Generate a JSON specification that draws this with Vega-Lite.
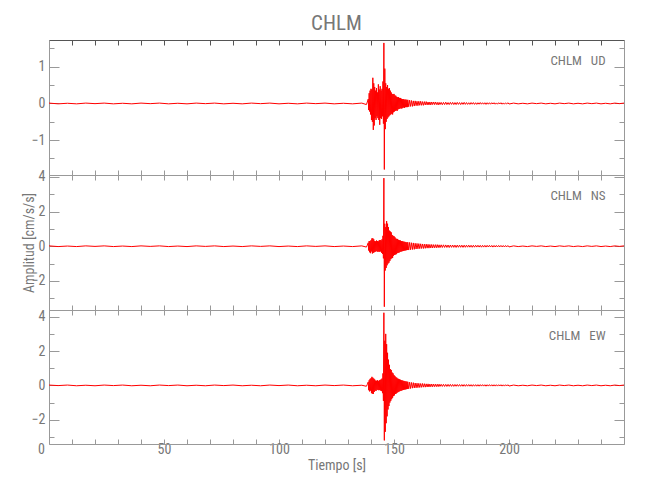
{
"$schema": "https://vega.github.io/schema/vega-lite/v6.json",
"padding": {"left": 22, "top": 12, "right": 5, "bottom": 5},
"spacing": 0,
"bounds": "flush",
"config": {
  "font": "Liberation Sans Narrow, Roboto Condensed, Roboto",
  "view": {"stroke": null},
  "axis": {"domainColor": "#999", "tickColor": "#999", "labelColor": "#777", "titleColor": "#777", "labelFontSize": 14, "titleFontSize": 14, "titleFontWeight": "normal", "grid": false, "labelFont": "Liberation Sans Narrow, Roboto Condensed, Roboto", "titleFont": "Liberation Sans Narrow, Roboto Condensed, Roboto", "tickWidth": 1, "domainWidth": 1, "labelOverlap": false, "labelFlush": false}
},
"datasets": {
"ud": [{"t":0,"a":0.01},{"t":4,"a":-0.01},{"t":8,"a":0.005},{"t":12,"a":-0.01},{"t":16,"a":0.01},{"t":20,"a":-0.005},{"t":24,"a":0.01},{"t":28,"a":-0.01},{"t":32,"a":0.005},{"t":36,"a":-0.01},{"t":40,"a":0.01},{"t":44,"a":-0.005},{"t":48,"a":0.01},{"t":52,"a":-0.01},{"t":56,"a":0.005},{"t":60,"a":-0.01},{"t":64,"a":0.01},{"t":68,"a":-0.005},{"t":72,"a":0.01},{"t":76,"a":-0.01},{"t":80,"a":0.005},{"t":84,"a":-0.01},{"t":88,"a":0.01},{"t":92,"a":-0.005},{"t":96,"a":0.01},{"t":100,"a":-0.01},{"t":104,"a":0.005},{"t":108,"a":-0.01},{"t":112,"a":0.01},{"t":116,"a":-0.005},{"t":120,"a":0.01},{"t":124,"a":-0.01},{"t":128,"a":0.005},{"t":132,"a":-0.01},{"t":136,"a":0.01},
{"t":138.0,"a":-0.03},{"t":138.4,"a":0.04},
{"t":138.8,"a":0.12},{"t":139.0,"a":-0.18},{"t":139.2,"a":0.28},{"t":139.4,"a":-0.22},{"t":139.6,"a":0.35},{"t":139.8,"a":-0.3},{"t":140.0,"a":0.4},{"t":140.2,"a":-0.45},{"t":140.4,"a":0.38},{"t":140.6,"a":-0.5},{"t":140.8,"a":0.7},{"t":141.0,"a":-0.72},{"t":141.2,"a":0.55},{"t":141.4,"a":-0.6},{"t":141.6,"a":0.45},{"t":141.8,"a":-0.4},{"t":142.0,"a":0.35},{"t":142.2,"a":-0.45},{"t":142.4,"a":0.42},{"t":142.6,"a":-0.35},{"t":142.8,"a":0.3},{"t":143.0,"a":-0.4},{"t":143.2,"a":0.52},{"t":143.4,"a":-0.45},{"t":143.6,"a":0.38},{"t":143.8,"a":-0.58},{"t":144.0,"a":0.47},{"t":144.2,"a":-0.4},{"t":144.4,"a":0.35},{"t":144.6,"a":-0.42},{"t":144.8,"a":0.4},{"t":145.0,"a":-0.35},{"t":145.2,"a":0.6},{"t":145.4,"a":-0.55},{"t":145.6,"a":1.65},{"t":145.8,"a":-1.8},{"t":146.0,"a":0.95},{"t":146.2,"a":-0.7},{"t":146.4,"a":0.55},{"t":146.6,"a":-0.5},{"t":146.8,"a":0.45},{"t":147.0,"a":-0.42},{"t":147.2,"a":0.5},{"t":147.4,"a":-0.38},{"t":147.6,"a":0.4},{"t":147.8,"a":-0.35},{"t":148.0,"a":0.42},{"t":148.2,"a":-0.32},{"t":148.4,"a":0.35},{"t":148.6,"a":-0.3},{"t":148.8,"a":0.3},{"t":149.0,"a":-0.28},{"t":149.2,"a":0.26},{"t":149.4,"a":-0.3},{"t":149.6,"a":0.25},{"t":149.8,"a":-0.24},{"t":150.0,"a":0.26},{"t":150.2,"a":-0.22},{"t":150.4,"a":0.22},{"t":150.6,"a":-0.2},{"t":150.8,"a":0.21},{"t":151.0,"a":-0.19},{"t":151.2,"a":0.18},{"t":151.4,"a":-0.2},{"t":151.6,"a":0.17},{"t":151.8,"a":-0.16},{"t":152.0,"a":0.17},{"t":152.2,"a":-0.15},{"t":152.4,"a":0.15},{"t":152.6,"a":-0.14},{"t":152.8,"a":0.15},{"t":153.0,"a":-0.13},{"t":153.2,"a":0.13},{"t":153.4,"a":-0.14},{"t":153.6,"a":0.12},{"t":153.8,"a":-0.12},{"t":154.0,"a":0.12},{"t":154.2,"a":-0.11},{"t":154.4,"a":0.11},{"t":154.6,"a":-0.12},{"t":154.8,"a":0.1},{"t":155.0,"a":-0.1},{"t":155.2,"a":0.11},{"t":155.4,"a":-0.1},{"t":155.6,"a":0.09},{"t":155.8,"a":-0.1},{"t":156.0,"a":0.1},
{"t":156.4,"a":-0.09},{"t":156.8,"a":0.09},{"t":157.2,"a":-0.08},{"t":157.6,"a":0.08},{"t":158.0,"a":-0.08},{"t":158.4,"a":0.07},{"t":158.8,"a":-0.07},{"t":159.2,"a":0.07},{"t":159.6,"a":-0.06},{"t":160.0,"a":0.06},{"t":160.4,"a":-0.06},{"t":160.8,"a":0.06},{"t":161.2,"a":-0.05},{"t":161.6,"a":0.06},{"t":162.0,"a":-0.05},{"t":162.4,"a":0.05},{"t":162.8,"a":-0.05},{"t":163.2,"a":0.05},{"t":163.6,"a":-0.04},{"t":164.0,"a":0.05},{"t":164.4,"a":-0.04},{"t":164.8,"a":0.04},{"t":165.2,"a":-0.04},{"t":165.6,"a":0.04},{"t":166.0,"a":-0.04},{"t":166.4,"a":0.04},{"t":166.8,"a":-0.03},{"t":167.2,"a":0.04},{"t":167.6,"a":-0.03},{"t":168.0,"a":0.04},{"t":168.4,"a":-0.03},{"t":168.8,"a":0.03},{"t":169.2,"a":-0.04},{"t":169.6,"a":0.03},{"t":170.0,"a":-0.03},
{"t":170.5,"a":0.03},{"t":171,"a":-0.035},{"t":171.5,"a":0.03},{"t":172,"a":-0.03},{"t":172.5,"a":0.035},{"t":173,"a":-0.03},{"t":173.5,"a":0.025},{"t":174,"a":-0.03},{"t":174.5,"a":0.03},{"t":175,"a":-0.025},{"t":175.5,"a":0.03},{"t":176,"a":-0.03},{"t":176.5,"a":0.025},{"t":177,"a":-0.03},{"t":177.5,"a":0.03},{"t":178,"a":-0.025},{"t":178.5,"a":0.025},{"t":179,"a":-0.03},{"t":179.5,"a":0.025},{"t":180,"a":-0.025},{"t":180.5,"a":0.03},{"t":181,"a":-0.025},{"t":181.5,"a":0.025},{"t":182,"a":-0.025},{"t":182.5,"a":0.02},{"t":183,"a":-0.025},{"t":183.5,"a":0.025},{"t":184,"a":-0.02},{"t":184.5,"a":0.025},{"t":185,"a":-0.025},{"t":185.5,"a":0.02},{"t":186,"a":-0.025},{"t":186.5,"a":0.02},{"t":187,"a":-0.02},{"t":187.5,"a":0.025},{"t":188,"a":-0.02},{"t":188.5,"a":0.02},{"t":189,"a":-0.02},{"t":189.5,"a":0.02},{"t":190,"a":-0.025},{"t":190.5,"a":0.02},{"t":191,"a":-0.02},{"t":191.5,"a":0.02},{"t":192,"a":-0.02},{"t":192.5,"a":0.02},{"t":193,"a":-0.015},{"t":193.5,"a":0.02},{"t":194,"a":-0.02},{"t":194.5,"a":0.015},{"t":195,"a":-0.02},{"t":195.5,"a":0.02},{"t":196,"a":-0.015},{"t":196.5,"a":0.02},{"t":197,"a":-0.02},{"t":197.5,"a":0.015},{"t":198,"a":-0.02},{"t":198.5,"a":0.015},{"t":199,"a":-0.015},{"t":199.5,"a":0.02},{"t":200,"a":-0.015},
{"t":202,"a":0.01},{"t":204,"a":-0.01},{"t":206,"a":0.005},{"t":208,"a":-0.01},{"t":210,"a":0.01},{"t":212,"a":-0.005},{"t":214,"a":0.01},{"t":216,"a":-0.01},{"t":218,"a":0.005},{"t":220,"a":-0.01},{"t":222,"a":0.01},{"t":224,"a":-0.005},{"t":226,"a":0.01},{"t":228,"a":-0.01},{"t":230,"a":0.005},{"t":232,"a":-0.01},{"t":234,"a":0.01},{"t":236,"a":-0.005},{"t":238,"a":0.01},{"t":240,"a":-0.01},{"t":242,"a":0.005},{"t":244,"a":-0.01},{"t":246,"a":0.01},{"t":248,"a":-0.005},{"t":250,"a":0.01}],
"ns": [{"t":0,"a":0.02},{"t":4,"a":-0.02},{"t":8,"a":0.01},{"t":12,"a":-0.02},{"t":16,"a":0.02},{"t":20,"a":-0.01},{"t":24,"a":0.02},{"t":28,"a":-0.02},{"t":32,"a":0.01},{"t":36,"a":-0.02},{"t":40,"a":0.02},{"t":44,"a":-0.01},{"t":48,"a":0.02},{"t":52,"a":-0.02},{"t":56,"a":0.01},{"t":60,"a":-0.02},{"t":64,"a":0.02},{"t":68,"a":-0.01},{"t":72,"a":0.02},{"t":76,"a":-0.02},{"t":80,"a":0.01},{"t":84,"a":-0.02},{"t":88,"a":0.02},{"t":92,"a":-0.01},{"t":96,"a":0.02},{"t":100,"a":-0.02},{"t":104,"a":0.01},{"t":108,"a":-0.02},{"t":112,"a":0.02},{"t":116,"a":-0.01},{"t":120,"a":0.02},{"t":124,"a":-0.02},{"t":128,"a":0.01},{"t":132,"a":-0.02},{"t":136,"a":0.02},
{"t":138.0,"a":-0.05},{"t":138.4,"a":0.06},
{"t":138.8,"a":0.2},{"t":139.0,"a":-0.25},{"t":139.2,"a":0.3},{"t":139.4,"a":-0.35},{"t":139.6,"a":0.3},{"t":139.8,"a":-0.4},{"t":140.0,"a":0.35},{"t":140.2,"a":-0.3},{"t":140.4,"a":0.45},{"t":140.6,"a":-0.42},{"t":140.8,"a":0.46},{"t":141.0,"a":-0.38},{"t":141.2,"a":0.4},{"t":141.4,"a":-0.35},{"t":141.6,"a":0.3},{"t":141.8,"a":-0.32},{"t":142.0,"a":0.28},{"t":142.2,"a":-0.3},{"t":142.4,"a":0.33},{"t":142.6,"a":-0.28},{"t":142.8,"a":0.3},{"t":143.0,"a":-0.33},{"t":143.2,"a":0.28},{"t":143.4,"a":-0.3},{"t":143.6,"a":0.35},{"t":143.8,"a":-0.32},{"t":144.0,"a":0.36},{"t":144.2,"a":-0.3},{"t":144.4,"a":0.33},{"t":144.6,"a":-0.38},{"t":144.8,"a":0.4},{"t":145.0,"a":-0.45},{"t":145.2,"a":0.6},{"t":145.4,"a":-0.7},{"t":145.6,"a":3.93},{"t":145.8,"a":-3.49},{"t":146.0,"a":1.3},{"t":146.2,"a":-1.4},{"t":146.4,"a":1.1},{"t":146.6,"a":-1.25},{"t":146.8,"a":1.45},{"t":147.0,"a":-1.1},{"t":147.2,"a":1.3},{"t":147.4,"a":-1.0},{"t":147.6,"a":1.1},{"t":147.8,"a":-0.95},{"t":148.0,"a":0.9},{"t":148.2,"a":-0.85},{"t":148.4,"a":0.85},{"t":148.6,"a":-0.75},{"t":148.8,"a":0.8},{"t":149.0,"a":-0.7},{"t":149.2,"a":0.65},{"t":149.4,"a":-0.68},{"t":149.6,"a":0.6},{"t":149.8,"a":-0.55},{"t":150.0,"a":0.58},{"t":150.2,"a":-0.5},{"t":150.4,"a":0.52},{"t":150.6,"a":-0.48},{"t":150.8,"a":0.45},{"t":151.0,"a":-0.46},{"t":151.2,"a":0.42},{"t":151.4,"a":-0.4},{"t":151.6,"a":0.42},{"t":151.8,"a":-0.38},{"t":152.0,"a":0.36},{"t":152.2,"a":-0.37},{"t":152.4,"a":0.34},{"t":152.6,"a":-0.33},{"t":152.8,"a":0.33},{"t":153.0,"a":-0.31},{"t":153.2,"a":0.3},{"t":153.4,"a":-0.3},{"t":153.6,"a":0.29},{"t":153.8,"a":-0.28},{"t":154.0,"a":0.27},{"t":154.2,"a":-0.27},{"t":154.4,"a":0.26},{"t":154.6,"a":-0.25},{"t":154.8,"a":0.25},{"t":155.0,"a":-0.24},{"t":155.2,"a":0.23},{"t":155.4,"a":-0.23},{"t":155.6,"a":0.22},{"t":155.8,"a":-0.22},{"t":156.0,"a":0.23},
{"t":156.4,"a":-0.22},{"t":156.8,"a":0.22},{"t":157.2,"a":-0.2},{"t":157.6,"a":0.2},{"t":158.0,"a":-0.19},{"t":158.4,"a":0.19},{"t":158.8,"a":-0.18},{"t":159.2,"a":0.17},{"t":159.6,"a":-0.16},{"t":160.0,"a":0.16},{"t":160.4,"a":-0.15},{"t":160.8,"a":0.15},{"t":161.2,"a":-0.14},{"t":161.6,"a":0.14},{"t":162.0,"a":-0.13},{"t":162.4,"a":0.13},{"t":162.8,"a":-0.13},{"t":163.2,"a":0.12},{"t":163.6,"a":-0.12},{"t":164.0,"a":0.12},{"t":164.4,"a":-0.11},{"t":164.8,"a":0.11},{"t":165.2,"a":-0.11},{"t":165.6,"a":0.1},{"t":166.0,"a":-0.1},{"t":166.4,"a":0.1},{"t":166.8,"a":-0.1},{"t":167.2,"a":0.09},{"t":167.6,"a":-0.09},{"t":168.0,"a":0.09},{"t":168.4,"a":-0.09},{"t":168.8,"a":0.09},{"t":169.2,"a":-0.08},{"t":169.6,"a":0.08},{"t":170.0,"a":-0.08},
{"t":170.5,"a":0.08},{"t":171,"a":-0.075},{"t":171.5,"a":0.08},{"t":172,"a":-0.07},{"t":172.5,"a":0.075},{"t":173,"a":-0.07},{"t":173.5,"a":0.07},{"t":174,"a":-0.075},{"t":174.5,"a":0.07},{"t":175,"a":-0.065},{"t":175.5,"a":0.07},{"t":176,"a":-0.065},{"t":176.5,"a":0.065},{"t":177,"a":-0.07},{"t":177.5,"a":0.065},{"t":178,"a":-0.06},{"t":178.5,"a":0.065},{"t":179,"a":-0.06},{"t":179.5,"a":0.06},{"t":180,"a":-0.065},{"t":180.5,"a":0.06},{"t":181,"a":-0.06},{"t":181.5,"a":0.06},{"t":182,"a":-0.055},{"t":182.5,"a":0.06},{"t":183,"a":-0.055},{"t":183.5,"a":0.055},{"t":184,"a":-0.06},{"t":184.5,"a":0.055},{"t":185,"a":-0.055},{"t":185.5,"a":0.055},{"t":186,"a":-0.05},{"t":186.5,"a":0.055},{"t":187,"a":-0.05},{"t":187.5,"a":0.05},{"t":188,"a":-0.055},{"t":188.5,"a":0.05},{"t":189,"a":-0.05},{"t":189.5,"a":0.05},{"t":190,"a":-0.05},{"t":190.5,"a":0.05},{"t":191,"a":-0.045},{"t":191.5,"a":0.05},{"t":192,"a":-0.045},{"t":192.5,"a":0.045},{"t":193,"a":-0.05},{"t":193.5,"a":0.045},{"t":194,"a":-0.045},{"t":194.5,"a":0.045},{"t":195,"a":-0.045},{"t":195.5,"a":0.045},{"t":196,"a":-0.04},{"t":196.5,"a":0.045},{"t":197,"a":-0.04},{"t":197.5,"a":0.04},{"t":198,"a":-0.045},{"t":198.5,"a":0.04},{"t":199,"a":-0.04},{"t":199.5,"a":0.04},{"t":200,"a":-0.04},
{"t":202,"a":0.02},{"t":204,"a":-0.02},{"t":206,"a":0.01},{"t":208,"a":-0.02},{"t":210,"a":0.02},{"t":212,"a":-0.01},{"t":214,"a":0.02},{"t":216,"a":-0.02},{"t":218,"a":0.01},{"t":220,"a":-0.02},{"t":222,"a":0.02},{"t":224,"a":-0.01},{"t":226,"a":0.02},{"t":228,"a":-0.02},{"t":230,"a":0.01},{"t":232,"a":-0.02},{"t":234,"a":0.02},{"t":236,"a":-0.01},{"t":238,"a":0.02},{"t":240,"a":-0.02},{"t":242,"a":0.01},{"t":244,"a":-0.02},{"t":246,"a":0.02},{"t":248,"a":-0.01},{"t":250,"a":0.02}],
"ew": [{"t":0,"a":0.02},{"t":4,"a":-0.01},{"t":8,"a":0.02},{"t":12,"a":-0.02},{"t":16,"a":0.01},{"t":20,"a":-0.02},{"t":24,"a":0.02},{"t":28,"a":-0.01},{"t":32,"a":0.02},{"t":36,"a":-0.02},{"t":40,"a":0.01},{"t":44,"a":-0.02},{"t":48,"a":0.02},{"t":52,"a":-0.01},{"t":56,"a":0.02},{"t":60,"a":-0.02},{"t":64,"a":0.01},{"t":68,"a":-0.02},{"t":72,"a":0.02},{"t":76,"a":-0.01},{"t":80,"a":0.02},{"t":84,"a":-0.02},{"t":88,"a":0.01},{"t":92,"a":-0.02},{"t":96,"a":0.02},{"t":100,"a":-0.01},{"t":104,"a":0.02},{"t":108,"a":-0.02},{"t":112,"a":0.01},{"t":116,"a":-0.02},{"t":120,"a":0.02},{"t":124,"a":-0.01},{"t":128,"a":0.02},{"t":132,"a":-0.02},{"t":136,"a":0.01},
{"t":138.0,"a":-0.05},{"t":138.4,"a":0.06},
{"t":138.8,"a":0.2},{"t":139.0,"a":-0.28},{"t":139.2,"a":0.3},{"t":139.4,"a":-0.35},{"t":139.6,"a":0.38},{"t":139.8,"a":-0.3},{"t":140.0,"a":0.42},{"t":140.2,"a":-0.45},{"t":140.4,"a":0.5},{"t":140.6,"a":-0.48},{"t":140.8,"a":0.45},{"t":141.0,"a":-0.5},{"t":141.2,"a":0.4},{"t":141.4,"a":-0.38},{"t":141.6,"a":0.35},{"t":141.8,"a":-0.3},{"t":142.0,"a":0.28},{"t":142.2,"a":-0.32},{"t":142.4,"a":0.27},{"t":142.6,"a":-0.25},{"t":142.8,"a":0.3},{"t":143.0,"a":-0.26},{"t":143.2,"a":0.25},{"t":143.4,"a":-0.28},{"t":143.6,"a":0.3},{"t":143.8,"a":-0.27},{"t":144.0,"a":0.32},{"t":144.2,"a":-0.3},{"t":144.4,"a":0.35},{"t":144.6,"a":-0.33},{"t":144.8,"a":0.4},{"t":145.0,"a":-0.45},{"t":145.2,"a":0.7},{"t":145.4,"a":-0.9},{"t":145.6,"a":4.23},{"t":145.8,"a":-3.2},{"t":146.0,"a":2.6},{"t":146.2,"a":-2.7},{"t":146.4,"a":3.0},{"t":146.6,"a":-2.2},{"t":146.8,"a":2.4},{"t":147.0,"a":-1.8},{"t":147.2,"a":1.9},{"t":147.4,"a":-1.4},{"t":147.6,"a":1.5},{"t":147.8,"a":-1.2},{"t":148.0,"a":1.2},{"t":148.2,"a":-1.0},{"t":148.4,"a":0.95},{"t":148.6,"a":-0.9},{"t":148.8,"a":0.9},{"t":149.0,"a":-0.8},{"t":149.2,"a":0.75},{"t":149.4,"a":-0.72},{"t":149.6,"a":0.7},{"t":149.8,"a":-0.62},{"t":150.0,"a":0.6},{"t":150.2,"a":-0.58},{"t":150.4,"a":0.55},{"t":150.6,"a":-0.5},{"t":150.8,"a":0.48},{"t":151.0,"a":-0.47},{"t":151.2,"a":0.45},{"t":151.4,"a":-0.42},{"t":151.6,"a":0.4},{"t":151.8,"a":-0.39},{"t":152.0,"a":0.38},{"t":152.2,"a":-0.36},{"t":152.4,"a":0.35},{"t":152.6,"a":-0.33},{"t":152.8,"a":0.33},{"t":153.0,"a":-0.31},{"t":153.2,"a":0.3},{"t":153.4,"a":-0.3},{"t":153.6,"a":0.29},{"t":153.8,"a":-0.27},{"t":154.0,"a":0.27},{"t":154.2,"a":-0.26},{"t":154.4,"a":0.26},{"t":154.6,"a":-0.24},{"t":154.8,"a":0.24},{"t":155.0,"a":-0.23},{"t":155.2,"a":0.23},{"t":155.4,"a":-0.22},{"t":155.6,"a":0.22},{"t":155.8,"a":-0.21},{"t":156.0,"a":0.21},
{"t":156.4,"a":-0.2},{"t":156.8,"a":0.19},{"t":157.2,"a":-0.18},{"t":157.6,"a":0.17},{"t":158.0,"a":-0.16},{"t":158.4,"a":0.16},{"t":158.8,"a":-0.15},{"t":159.2,"a":0.14},{"t":159.6,"a":-0.14},{"t":160.0,"a":0.13},{"t":160.4,"a":-0.13},{"t":160.8,"a":0.12},{"t":161.2,"a":-0.12},{"t":161.6,"a":0.11},{"t":162.0,"a":-0.11},{"t":162.4,"a":0.11},{"t":162.8,"a":-0.1},{"t":163.2,"a":0.1},{"t":163.6,"a":-0.1},{"t":164.0,"a":0.09},{"t":164.4,"a":-0.09},{"t":164.8,"a":0.09},{"t":165.2,"a":-0.09},{"t":165.6,"a":0.08},{"t":166.0,"a":-0.08},{"t":166.4,"a":0.08},{"t":166.8,"a":-0.08},{"t":167.2,"a":0.08},{"t":167.6,"a":-0.07},{"t":168.0,"a":0.07},{"t":168.4,"a":-0.07},{"t":168.8,"a":0.07},{"t":169.2,"a":-0.07},{"t":169.6,"a":0.07},{"t":170.0,"a":-0.06},
{"t":170.5,"a":0.065},{"t":171,"a":-0.06},{"t":171.5,"a":0.065},{"t":172,"a":-0.06},{"t":172.5,"a":0.06},{"t":173,"a":-0.06},{"t":173.5,"a":0.06},{"t":174,"a":-0.055},{"t":174.5,"a":0.06},{"t":175,"a":-0.055},{"t":175.5,"a":0.055},{"t":176,"a":-0.055},{"t":176.5,"a":0.055},{"t":177,"a":-0.05},{"t":177.5,"a":0.055},{"t":178,"a":-0.05},{"t":178.5,"a":0.05},{"t":179,"a":-0.05},{"t":179.5,"a":0.05},{"t":180,"a":-0.05},{"t":180.5,"a":0.05},{"t":181,"a":-0.05},{"t":181.5,"a":0.05},{"t":182,"a":-0.045},{"t":182.5,"a":0.05},{"t":183,"a":-0.045},{"t":183.5,"a":0.045},{"t":184,"a":-0.05},{"t":184.5,"a":0.045},{"t":185,"a":-0.045},{"t":185.5,"a":0.045},{"t":186,"a":-0.045},{"t":186.5,"a":0.045},{"t":187,"a":-0.045},{"t":187.5,"a":0.045},{"t":188,"a":-0.04},{"t":188.5,"a":0.045},{"t":189,"a":-0.04},{"t":189.5,"a":0.04},{"t":190,"a":-0.045},{"t":190.5,"a":0.04},{"t":191,"a":-0.04},{"t":191.5,"a":0.045},{"t":192,"a":-0.04},{"t":192.5,"a":0.04},{"t":193,"a":-0.04},{"t":193.5,"a":0.04},{"t":194,"a":-0.04},{"t":194.5,"a":0.04},{"t":195,"a":-0.04},{"t":195.5,"a":0.04},{"t":196,"a":-0.035},{"t":196.5,"a":0.04},{"t":197,"a":-0.04},{"t":197.5,"a":0.035},{"t":198,"a":-0.04},{"t":198.5,"a":0.04},{"t":199,"a":-0.035},{"t":199.5,"a":0.04},{"t":200,"a":-0.035},
{"t":202,"a":0.02},{"t":204,"a":-0.02},{"t":206,"a":0.01},{"t":208,"a":-0.02},{"t":210,"a":0.02},{"t":212,"a":-0.01},{"t":214,"a":0.02},{"t":216,"a":-0.02},{"t":218,"a":0.01},{"t":220,"a":-0.02},{"t":222,"a":0.02},{"t":224,"a":-0.01},{"t":226,"a":0.02},{"t":228,"a":-0.02},{"t":230,"a":0.01},{"t":232,"a":-0.02},{"t":234,"a":0.02},{"t":236,"a":-0.01},{"t":238,"a":0.02},{"t":240,"a":-0.02},{"t":242,"a":0.01},{"t":244,"a":-0.02},{"t":246,"a":0.02},{"t":248,"a":-0.01},{"t":250,"a":0.02}]
},
"vconcat": [
{
  "width": 575, "height": 135,
  "title": {"text": "CHLM", "fontSize": 21, "color": "#777", "fontWeight": "normal", "anchor": "middle", "frame": "group", "offset": 6},
  "data": {"name": "ud"},
  "layer": [
    {"mark": {"type": "line", "color": "#ff0000", "strokeWidth": 1, "clip": true},
     "encoding": {
       "x": {"field": "t", "type": "quantitative", "scale": {"domain": [0, 250], "nice": false, "zero": false},
             "axis": {"orient": "bottom", "values": [0,10,20,30,40,50,60,70,80,90,100,110,120,130,140,150,160,170,180,190,200,210,220,230,240,250], "tickSize": -5, "labels": false, "title": null}},
       "y": {"field": "a", "type": "quantitative", "scale": {"domain": [-1.95, 1.73], "nice": false, "zero": false},
             "axis": {"orient": "left", "values": [-1.5,-1,-0.5,0,0.5,1,1.5], "tickSize": {"condition": {"test": "datum.value % 1 == 0", "value": -10}, "value": -5}, "labelExpr": "datum.value % 1 == 0 ? format(datum.value, 'd') : ''", "labelPadding": 14, "title": null}}
     }},
    {"data": {"values": [{}]}, "mark": {"type": "rule", "opacity": 0},
     "encoding": {
       "x": {"datum": 0, "type": "quantitative", "axis": {"orient": "top", "values": [0,10,20,30,40,50,60,70,80,90,100,110,120,130,140,150,160,170,180,190,200,210,220,230,240,250], "tickSize": -5, "labels": false, "title": null, "domainColor": "#555", "tickColor": "#555"}},
       "y": {"datum": 0, "type": "quantitative", "axis": {"orient": "right", "values": [-1.5,-1,-0.5,0,0.5,1,1.5], "tickSize": {"condition": {"test": "datum.value % 1 == 0", "value": -10}, "value": -5}, "labels": false, "title": null}}
     }},
    {"data": {"values": [{}]}, "mark": {"type": "text", "align": "right", "baseline": "middle", "fontSize": 13, "color": "#777"},
     "encoding": {"x": {"datum": 242, "type": "quantitative", "axis": null}, "y": {"datum": 1.17, "type": "quantitative", "axis": null}, "text": {"value": "CHLM\u00a0\u00a0\u00a0UD"}}}
  ],
  "resolve": {"axis": {"x": "independent", "y": "independent"}}
},
{
  "width": 575, "height": 135,
  "data": {"name": "ns"},
  "layer": [
    {"mark": {"type": "line", "color": "#ff0000", "strokeWidth": 1, "clip": true},
     "encoding": {
       "x": {"field": "t", "type": "quantitative", "scale": {"domain": [0, 250], "nice": false, "zero": false},
             "axis": {"orient": "bottom", "values": [0,10,20,30,40,50,60,70,80,90,100,110,120,130,140,150,160,170,180,190,200,210,220,230,240,250], "tickSize": -5, "labels": false, "title": null}},
       "y": {"field": "a", "type": "quantitative", "scale": {"domain": [-3.68, 4.11], "nice": false, "zero": false},
             "axis": {"orient": "left", "values": [-3,-2,-1,0,1,2,3,4], "tickSize": {"condition": {"test": "datum.value % 2 == 0", "value": -10}, "value": -5}, "labelExpr": "datum.value % 2 == 0 ? format(datum.value, 'd') : ''", "labelPadding": 14, "title": "Amplitud [cm/s/s]", "titlePadding": -5}}
     }},
    {"data": {"values": [{}]}, "mark": {"type": "rule", "opacity": 0},
     "encoding": {
       "x": {"datum": 0, "type": "quantitative", "axis": {"orient": "top", "values": [0,10,20,30,40,50,60,70,80,90,100,110,120,130,140,150,160,170,180,190,200,210,220,230,240,250], "tickSize": -5, "labels": false, "title": null}},
       "y": {"datum": 0, "type": "quantitative", "axis": {"orient": "right", "values": [-3,-2,-1,0,1,2,3,4], "tickSize": {"condition": {"test": "datum.value % 2 == 0", "value": -10}, "value": -5}, "labels": false, "title": null}}
     }},
    {"data": {"values": [{}]}, "mark": {"type": "text", "align": "right", "baseline": "middle", "fontSize": 13, "color": "#777"},
     "encoding": {"x": {"datum": 242, "type": "quantitative", "axis": null}, "y": {"datum": 2.9, "type": "quantitative", "axis": null}, "text": {"value": "CHLM\u00a0\u00a0\u00a0NS"}}}
  ],
  "resolve": {"axis": {"x": "independent", "y": "independent"}}
},
{
  "width": 575, "height": 134,
  "data": {"name": "ew"},
  "layer": [
    {"mark": {"type": "line", "color": "#ff0000", "strokeWidth": 1, "clip": true},
     "encoding": {
       "x": {"field": "t", "type": "quantitative", "scale": {"domain": [0, 250], "nice": false, "zero": false},
             "axis": {"orient": "bottom", "values": [0,10,20,30,40,50,60,70,80,90,100,110,120,130,140,150,160,170,180,190,200,210,220,230,240,250], "tickSize": -5, "labelPadding": 3, "labelExpr": "datum.value % 50 == 0 && datum.value < 250 ? datum.label : ''", "labelOffset": {"condition": {"test": "datum.value == 0", "value": -8}, "value": 0}, "title": "Tiempo [s]", "titlePadding": 2}},
       "y": {"field": "a", "type": "quantitative", "scale": {"domain": [-3.41, 4.39], "nice": false, "zero": false},
             "axis": {"orient": "left", "values": [-3,-2,-1,0,1,2,3,4], "tickSize": {"condition": {"test": "datum.value % 2 == 0", "value": -10}, "value": -5}, "labelExpr": "datum.value % 2 == 0 ? format(datum.value, 'd') : ''", "labelPadding": 14, "title": null}}
     }},
    {"data": {"values": [{}]}, "mark": {"type": "rule", "opacity": 0},
     "encoding": {
       "x": {"datum": 0, "type": "quantitative", "axis": {"orient": "top", "values": [0,10,20,30,40,50,60,70,80,90,100,110,120,130,140,150,160,170,180,190,200,210,220,230,240,250], "tickSize": -5, "labels": false, "title": null}},
       "y": {"datum": 0, "type": "quantitative", "axis": {"orient": "right", "values": [-3,-2,-1,0,1,2,3,4], "tickSize": {"condition": {"test": "datum.value % 2 == 0", "value": -10}, "value": -5}, "labels": false, "title": null}}
     }},
    {"data": {"values": [{}]}, "mark": {"type": "text", "align": "right", "baseline": "middle", "fontSize": 13, "color": "#777"},
     "encoding": {"x": {"datum": 242, "type": "quantitative", "axis": null}, "y": {"datum": 2.9, "type": "quantitative", "axis": null}, "text": {"value": "CHLM\u00a0\u00a0\u00a0EW"}}}
  ],
  "resolve": {"axis": {"x": "independent", "y": "independent"}}
}
]
}
